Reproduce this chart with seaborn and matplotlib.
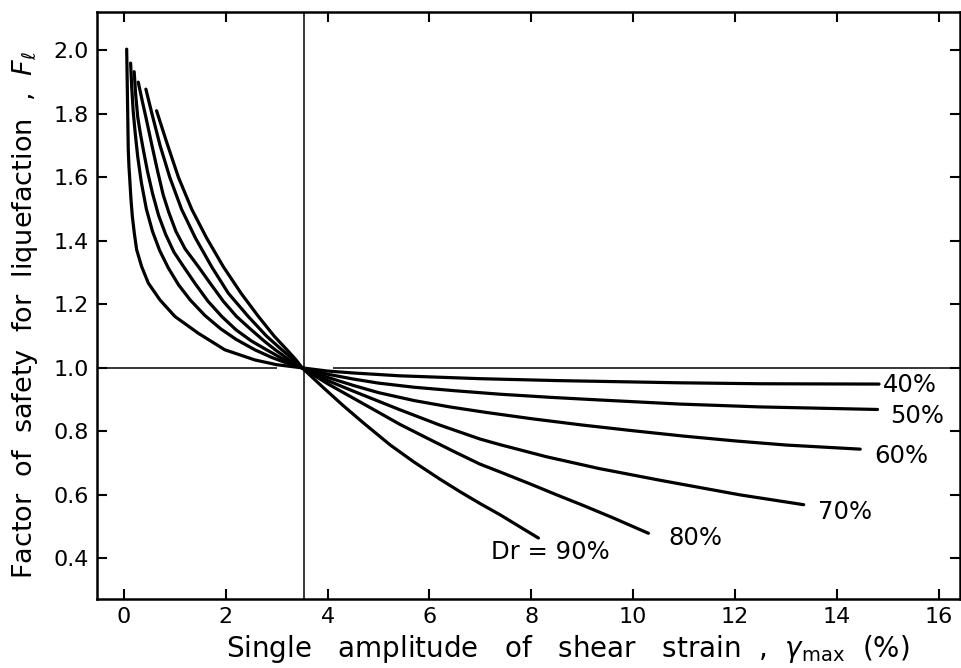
import pandas as pd
import matplotlib
matplotlib.use("Agg")
import matplotlib.pyplot as plt
import seaborn as sns

# relative density of each curve
dr_levels = ["40%", "50%", "60%", "70%", "80%", "90%"]

# left branch (F > 1)
left_x = {
    "40%": [0.053, 0.069, 0.084, 0.098, 0.118, 0.138, 0.164, 0.203, 0.249, 0.347,
            0.478, 0.707, 1.0, 1.46, 1.98, 2.57, 3.0, 3.5],
    "50%": [0.13, 0.15, 0.18, 0.22, 0.27, 0.34, 0.44, 0.56, 0.70, 0.87, 1.07, 1.3,
            1.59, 1.9, 2.2, 2.57, 2.9, 3.2, 3.5],
    "60%": [0.20, 0.23, 0.27, 0.32, 0.38, 0.46, 0.56, 0.68, 0.82, 0.98, 1.17, 1.4,
            1.65, 1.92, 2.2, 2.5, 2.8, 3.1, 3.5],
    "70%": [0.28, 0.36, 0.45, 0.55, 0.66, 0.77, 0.88, 1.02, 1.2, 1.46, 1.7, 1.95,
            2.21, 2.5, 2.75, 2.97, 3.25, 3.5],
    "80%": [0.43, 0.55, 0.71, 0.9, 1.13, 1.4, 1.72, 2.05, 2.44, 2.8, 3.10, 3.3, 3.5],
    "90%": [0.64, 0.84, 1.07, 1.33, 1.62, 1.95, 2.3, 2.64, 2.95, 3.2, 3.38, 3.5],
}
left_y = {
    "40%": [2.004, 1.844, 1.687, 1.634, 1.582, 1.529, 1.477, 1.424, 1.372, 1.319,
            1.267, 1.214, 1.162, 1.109, 1.057, 1.025, 1.01, 1.0],
    "50%": [1.96, 1.89, 1.81, 1.74, 1.665, 1.585, 1.50, 1.43, 1.37, 1.315, 1.262,
            1.214, 1.165, 1.123, 1.09, 1.057, 1.033, 1.015, 1.0],
    "60%": [1.933, 1.86, 1.79, 1.74, 1.687, 1.62, 1.55, 1.48, 1.42, 1.365, 1.319,
            1.265, 1.21, 1.162, 1.12, 1.085, 1.057, 1.03, 1.0],
    "70%": [1.90, 1.84, 1.775, 1.70, 1.62, 1.545, 1.49, 1.43, 1.375, 1.319, 1.265,
            1.21, 1.162, 1.12, 1.085, 1.057, 1.025, 1.0],
    "80%": [1.878, 1.80, 1.70, 1.60, 1.50, 1.41, 1.319, 1.235, 1.162, 1.10, 1.057,
            1.03, 1.0],
    "90%": [1.81, 1.71, 1.60, 1.50, 1.41, 1.319, 1.235, 1.162, 1.10, 1.057, 1.025, 1.0],
}

# right branch (F < 1)
right_x = {
    "40%": [4.0, 4.5, 5.42, 6.99, 8.5, 10.92, 12.5, 14.83],
    "50%": [4.0, 4.5, 5.0, 5.7, 6.5, 7.39, 8.4, 9.33, 10.92, 12.5, 14.8],
    "60%": [4.0, 4.5, 5.0, 5.7, 6.4, 7.1, 8.0, 9.0, 10.0, 11.0, 12.0, 13.0, 14.46],
    "70%": [4.0, 4.5, 5.42, 6.2, 6.99, 7.39, 8.3, 9.33, 10.53, 12.1, 13.35],
    "80%": [4.0, 4.5, 5.0, 5.42, 6.0, 6.5, 6.99, 7.39, 8.0, 8.5, 9.0, 9.6, 10.3],
    "90%": [3.9, 4.3, 4.7, 5.23, 5.7, 6.2, 6.6, 6.99, 7.39, 7.8, 8.14],
}
right_y = {
    "40%": [0.99, 0.984, 0.975, 0.966, 0.96, 0.953, 0.95, 0.949],
    "50%": [0.98, 0.965, 0.952, 0.939, 0.928, 0.917, 0.907, 0.899, 0.886, 0.877, 0.869],
    "60%": [0.97, 0.945, 0.922, 0.897, 0.877, 0.86, 0.84, 0.82, 0.802, 0.785, 0.77,
            0.757, 0.744],
    "70%": [0.96, 0.927, 0.868, 0.82, 0.776, 0.758, 0.72, 0.683, 0.646, 0.60, 0.569],
    "80%": [0.95, 0.905, 0.86, 0.822, 0.775, 0.735, 0.697, 0.672, 0.633, 0.60, 0.568,
            0.528, 0.479],
    "90%": [0.94, 0.882, 0.827, 0.757, 0.703, 0.65, 0.61, 0.573, 0.537, 0.497, 0.464],
}

label_text = ["40%", "50%", "60%", "70%", "80%", "Dr = 90%"]
label_x = [15.44, 15.58, 15.27, 14.16, 11.22, 8.37]
label_y = [0.946, 0.849, 0.721, 0.547, 0.464, 0.421]

rows = []
for dr in dr_levels:
    for x, y in zip(left_x[dr] + right_x[dr], left_y[dr] + right_y[dr]):
        rows.append([dr, x, y])
df = pd.DataFrame(rows, columns=["Dr", "strain", "FL"])

sns.set_style("ticks")
plt.rcParams["font.family"] = ["DejaVu Sans"]
plt.rcParams.update({"text.color": "black", "axes.labelcolor": "black",
                     "xtick.color": "black", "ytick.color": "black",
                     "axes.edgecolor": "black"})

fig = plt.figure(figsize=(9.61, 6.68), dpi=100)
ax = fig.add_axes([97 / 961, 69 / 668, 863 / 961, 587 / 668])

sns.lineplot(data=df, x="strain", y="FL", hue="Dr", palette=["black"] * 6,
             estimator=None, sort=False, linewidth=2.3, legend=False, ax=ax)

ax.axvline(3.54, color="black", lw=1.1)
ax.hlines(1.0, -0.6, 3.0, color="black", lw=1.1)
ax.hlines(1.0, 4.1, 16.5, color="black", lw=1.1)

for t, x, y in zip(label_text, label_x, label_y):
    ax.text(x, y, t, fontsize=17.5, ha="center", va="center")

ax.set_xlim(-0.53, 16.42)
ax.set_ylim(0.272, 2.121)
ax.set_xticks(range(0, 17, 2))
ax.set_yticks([0.4, 0.6, 0.8, 1.0, 1.2, 1.4, 1.6, 1.8, 2.0])
ax.set_yticklabels(["0.4", "0.6", "0.8", "1.0", "1.2", "1.4", "1.6", "1.8", "2.0"])
ax.tick_params(direction="in", length=7, width=1.5, labelsize=16,
               top=True, right=True, pad=6)
for s in ax.spines.values():
    s.set_linewidth(1.8)

ax.set_xlabel(r"Single   amplitude   of   shear   strain  ,  $\gamma_{\rm max}$  (%)",
              fontsize=20)
ax.xaxis.set_label_coords(0.545, -0.058)
ax.set_ylabel(r"Factor  of  safety  for  liquefaction  ,  $F_\ell$", fontsize=19.5)
ax.yaxis.set_label_coords(-0.066, 0.484)

fig.savefig("out.png", dpi=100)
